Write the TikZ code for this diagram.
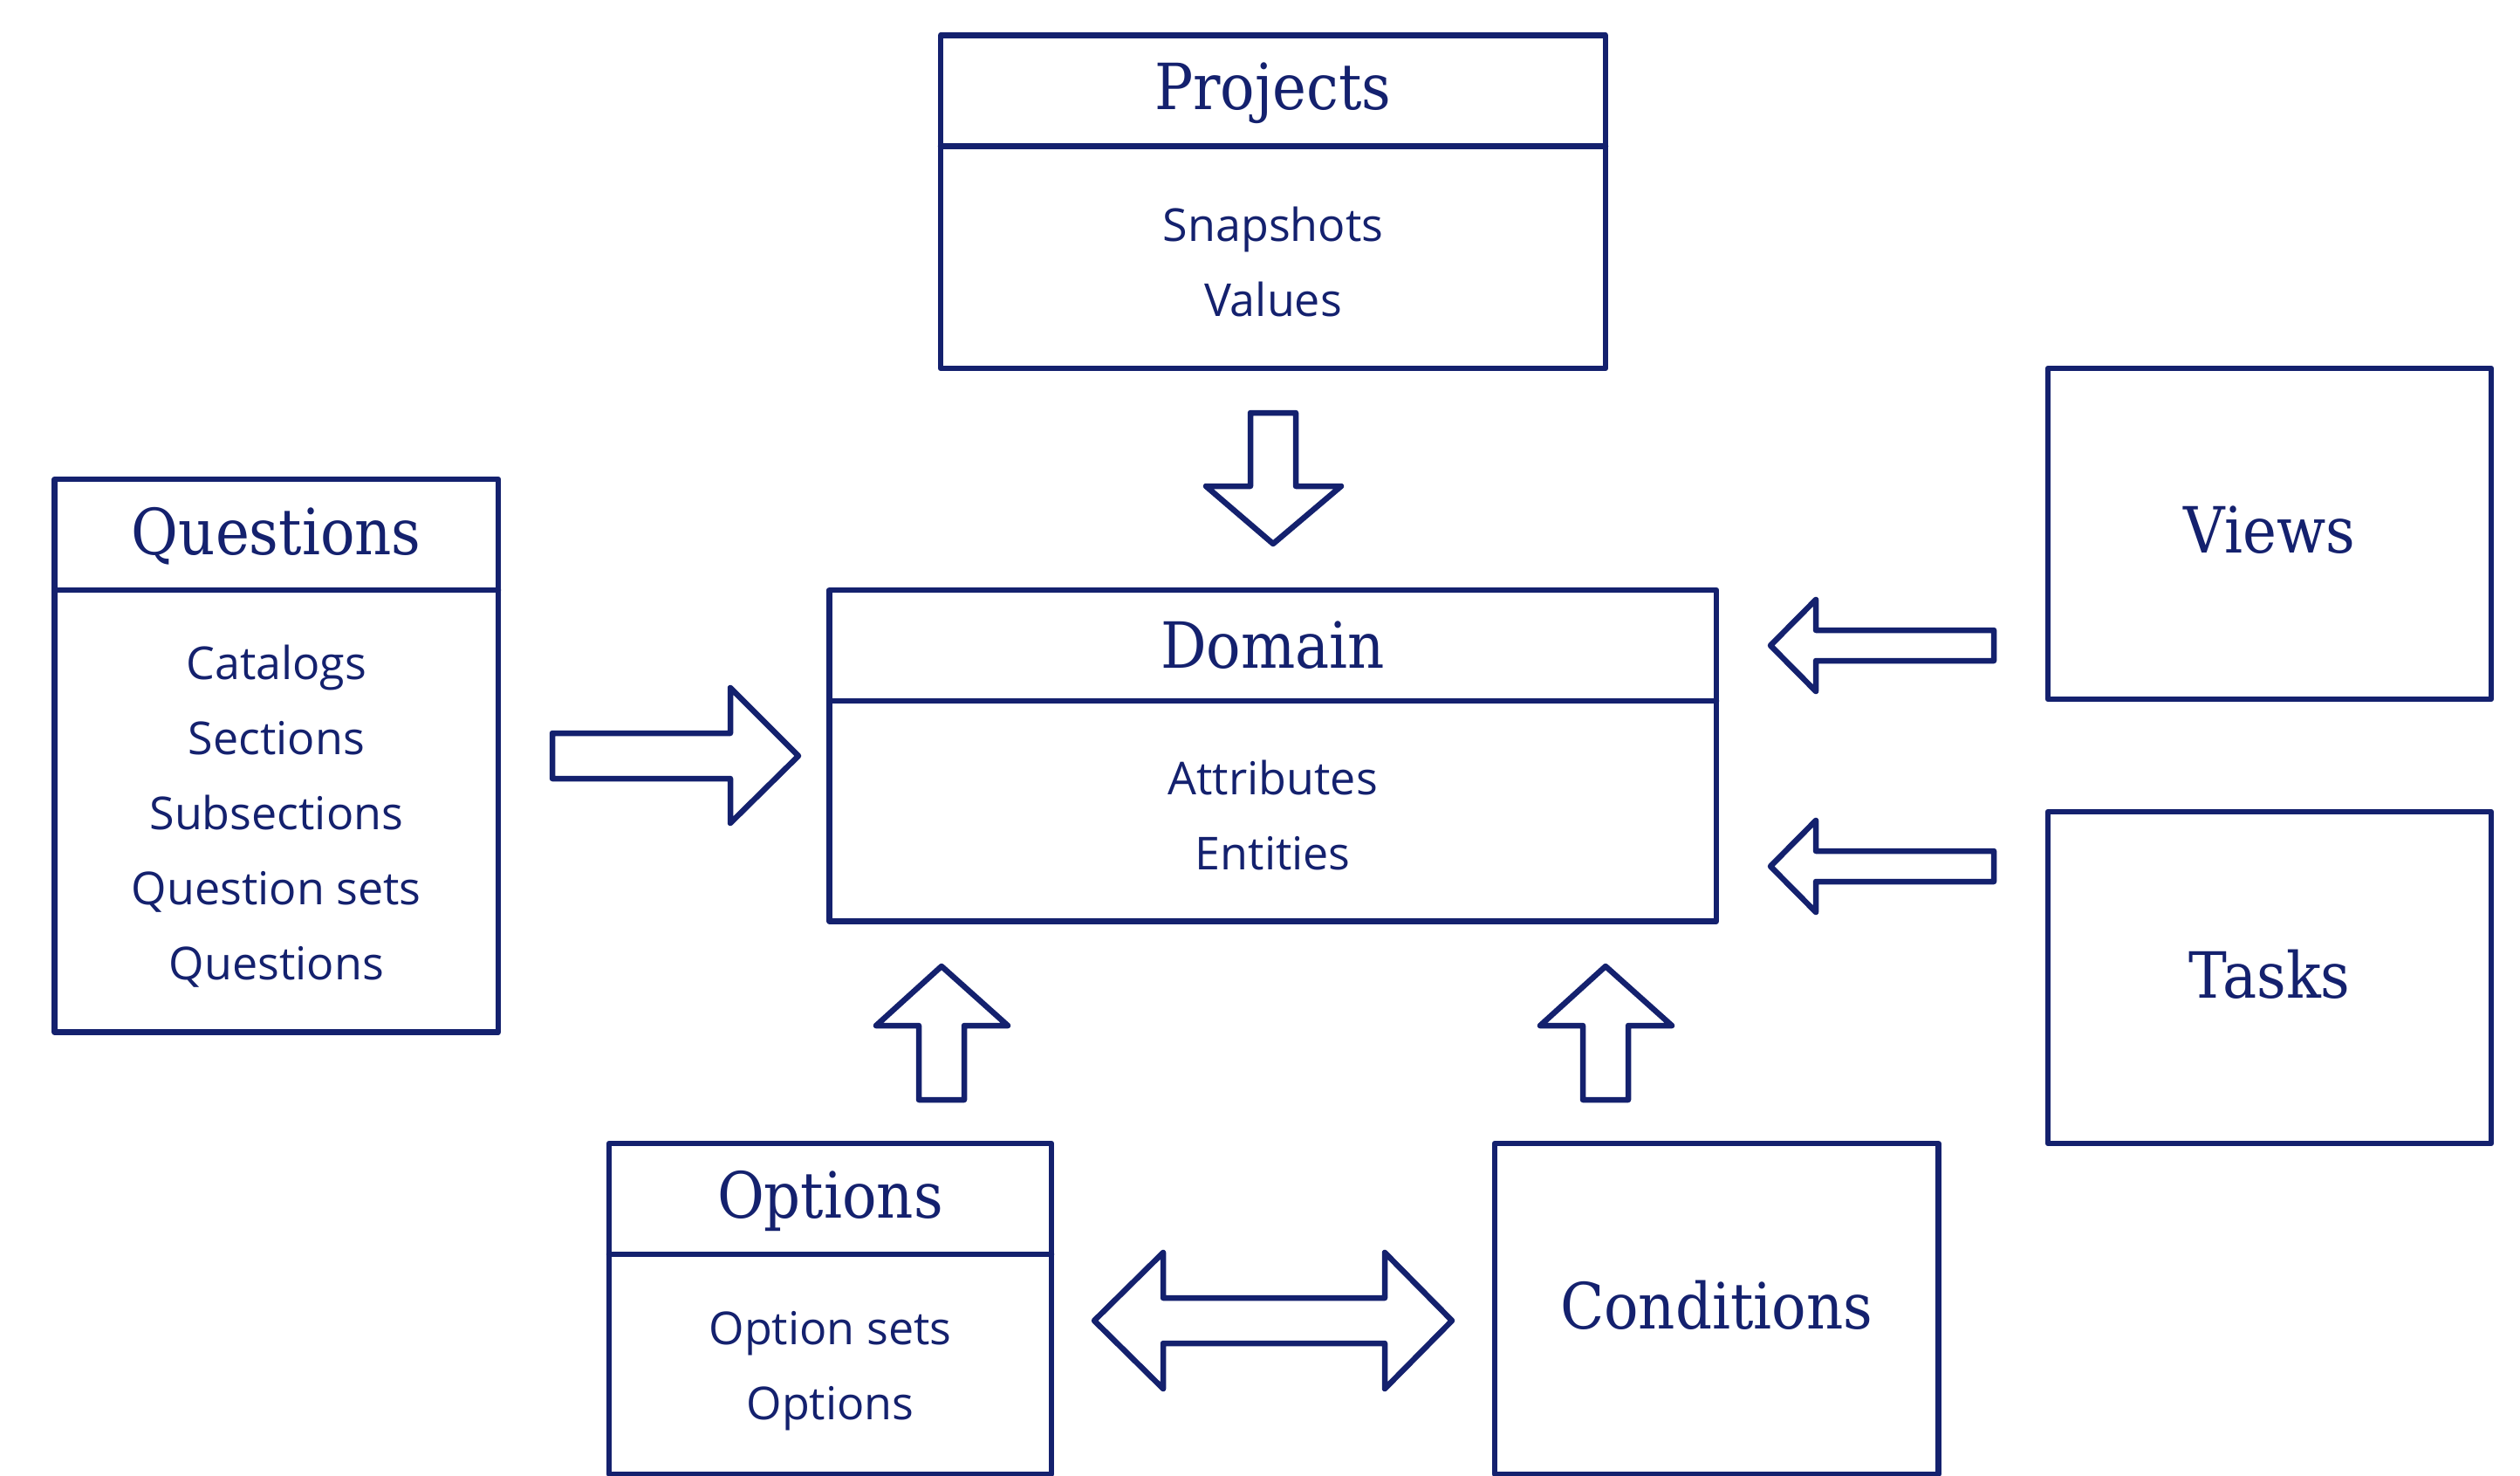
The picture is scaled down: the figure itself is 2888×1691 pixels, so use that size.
\documentclass[tikz,border=0pt]{standalone}
\usepackage{fontspec}
\usetikzlibrary{calc}
\setmainfont{Open Sans}
\newfontfamily\titlefont[FakeStretch=0.9]{DejaVu Serif}
\definecolor{navy}{RGB}{20,33,110}
\tikzset{
  box/.style={draw=navy, line width=6.5pt, line join=round, inner sep=0pt, outer sep=0pt, rectangle},
  divline/.style={draw=navy, line width=6.5pt, line cap=round},
  blockarrow/.style={draw=navy, line width=6.5pt, line join=round, fill=white},
  titletext/.style={text=navy, font=\titlefont\fontsize{73}{83}\selectfont, inner sep=0pt},
  itemtext/.style={text=navy, font=\fontsize{52}{86}\selectfont, align=center, inner sep=0pt},
}
\begin{document}
\begin{tikzpicture}[x=1pt, y=-1pt]
\useasboundingbox[fill=white] (0,0) rectangle (2888,1691);

% Boxes
\node[box, minimum width=762pt, minimum height=381.5pt] (projects) at (1459,231.25) {};
\node[box, minimum width=508.4pt, minimum height=633.6pt] (questions) at (316.8,865.8) {};
\node[box, minimum width=1016.5pt, minimum height=379.5pt] (domain) at (1458.75,865.75) {};
\node[box, minimum width=508pt, minimum height=379pt] (views) at (2601,611.5) {};
\node[box, minimum width=508pt, minimum height=380pt] (tasks) at (2601,1120) {};
\node[box, minimum width=507pt, minimum height=379pt] (options) at (951.5,1499.5) {};
\node[box, minimum width=508.5pt, minimum height=379pt] (conditions) at (1967.25,1499.5) {};

% Dividers
\draw[divline] ($(projects.north west)+(0,127)$) coordinate (pjdl) -- ($(projects.north east)+(0,127)$) coordinate (pjdr);
\draw[divline] ($(questions.north west)+(0,127)$) coordinate (qdl) -- ($(questions.north east)+(0,127)$) coordinate (qdr);
\draw[divline] ($(domain.north west)+(0,127)$) coordinate (ddl) -- ($(domain.north east)+(0,127)$) coordinate (ddr);
\draw[divline] ($(options.north west)+(0,127)$) coordinate (odl) -- ($(options.north east)+(0,127)$) coordinate (odr);

% Titles
\node[titletext] (projectsT) at ($($(projects.north)!0.5!(projects.north |- pjdl)$)+(0,3)$) {Projects};
\node[titletext] (questionsT) at ($($(questions.north)!0.5!(questions.north |- qdl)$)+(0,2)$) {Questions};
\node[titletext] (domainT) at ($($(domain.north)!0.5!(domain.north |- ddl)$)+(0,0)$) {Domain};
\node[titletext] (optionsT) at ($($(options.north)!0.5!(options.north |- odl)$)+(0,2)$) {Options};
\node[titletext] (viewsT) at ($(views.center)+(0,-4)$) {Views};
\node[titletext] (tasksT) at ($(tasks.center)+(0,-4)$) {Tasks};
\node[titletext] (conditionsT) at ($(conditions.center)+(0,-4)$) {Conditions};

% Items
\node[itemtext] (projectsI) at ($($(projects.south)!0.5!(projects.south |- pjdl)$)+(0,5)$) {Snapshots\\Values};
\node[itemtext] (questionsI) at ($($(questions.south)!0.5!(questions.south |- qdl)$)+(0,6)$) {Catalogs\\Sections\\Subsections\\Question sets\\Questions};
\node[itemtext] (domainI) at ($($(domain.south)!0.5!(domain.south |- ddl)$)+(0,5)$) {Attributes\\Entities};
\node[itemtext] (optionsI) at ($($(options.south)!0.5!(options.south |- odl)$)+(0,8)$) {Option sets\\Options};

% Block arrows
% Projects -> Domain (down)
\draw[blockarrow] (1433,473) -- (1485,473) -- (1485,557) -- (1537,557) -- (1459,623) -- (1382,557) -- (1433,557) -- cycle;
% Questions -> Domain (right)
\draw[blockarrow] (633,840) -- (837,840) -- (837,788) -- (915,866) -- (837,943) -- (837,892) -- (633,892) -- cycle;
% Views -> Domain (left)
\draw[blockarrow] (2285,722) -- (2081,722) -- (2081,687) -- (2029,739.5) -- (2081,792) -- (2081,757) -- (2285,757) -- cycle;
% Tasks -> Domain (left)
\draw[blockarrow] (2285,975) -- (2081,975) -- (2081,940) -- (2029,992.5) -- (2081,1045) -- (2081,1010) -- (2285,1010) -- cycle;
% Options -> Domain (up)
\draw[blockarrow] (1053,1260) -- (1105,1260) -- (1105,1175) -- (1155,1175) -- (1079,1107) -- (1004,1175) -- (1053,1175) -- cycle;
% Conditions -> Domain (up)
\draw[blockarrow] (1814,1260) -- (1866,1260) -- (1866,1175) -- (1916,1175) -- (1840,1107) -- (1765,1175) -- (1814,1175) -- cycle;
% Options <-> Conditions
\draw[blockarrow] (1254,1513) -- (1333,1435) -- (1333,1487) -- (1587,1487) -- (1587,1435) -- (1664,1513) -- (1587,1591) -- (1587,1539) -- (1333,1539) -- (1333,1591) -- cycle;
\end{tikzpicture}
\end{document}
